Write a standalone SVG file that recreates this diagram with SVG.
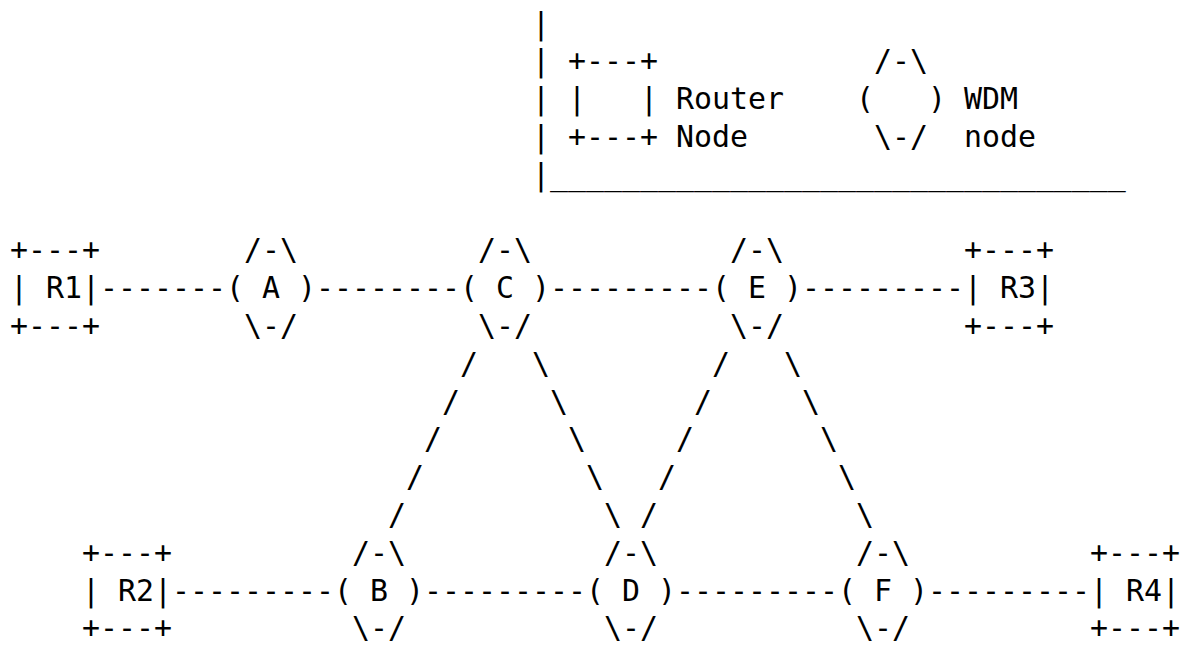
<svg xmlns="http://www.w3.org/2000/svg" width="1184" height="645" viewBox="0 0 1184 645" xml:space="preserve">
<style>
text { font-family: "DejaVu Sans Mono", "Liberation Mono", monospace; font-size: 29.9px; fill: #000; white-space: pre; }
</style>
<rect x="0" y="0" width="1184" height="645" fill="#fff"/>
<g id="legend-frame">
<text x="532" y="33.5">|</text>
<text x="532" y="71.3">|</text>
<text x="532" y="109.1">|</text>
<text x="532" y="146.9">|</text>
<text x="532" y="184.7">|________________________________</text>
</g>
<g id="legend-router">
<text x="568" y="71.3">+---+</text>
<text x="568" y="109.1">|   | Router</text>
<text x="568" y="146.9">+---+ Node</text>
</g>
<g id="legend-wdm">
<text x="874" y="71.3">/-\</text>
<text x="856" y="109.1">(   ) WDM</text>
<text x="874" y="146.9">\-/  node</text>
</g>
<g id="connectors">
<text x="100" y="298.1">-------</text>
<text x="316" y="298.1">--------</text>
<text x="550" y="298.1">---------</text>
<text x="802" y="298.1">---------</text>
<text x="172" y="600.5">---------</text>
<text x="424" y="600.5">---------</text>
<text x="676" y="600.5">---------</text>
<text x="928" y="600.5">---------</text>
<text x="460" y="373.7">/</text><text x="532" y="373.7">\</text><text x="712" y="373.7">/</text><text x="784" y="373.7">\</text>
<text x="442" y="411.5">/</text><text x="550" y="411.5">\</text><text x="694" y="411.5">/</text><text x="802" y="411.5">\</text>
<text x="424" y="449.3">/</text><text x="568" y="449.3">\</text><text x="676" y="449.3">/</text><text x="820" y="449.3">\</text>
<text x="406" y="487.1">/</text><text x="586" y="487.1">\</text><text x="658" y="487.1">/</text><text x="838" y="487.1">\</text>
<text x="388" y="524.9">/</text><text x="604" y="524.9">\</text><text x="640" y="524.9">/</text><text x="856" y="524.9">\</text>
</g>
<g id="R1">
<text x="10" y="260.3">+---+</text>
<text x="10" y="298.1">| R1|</text>
<text x="10" y="335.9">+---+</text>
</g>
<g id="A">
<text x="244" y="260.3">/-\</text>
<text x="226" y="298.1">( A )</text>
<text x="244" y="335.9">\-/</text>
</g>
<g id="C">
<text x="478" y="260.3">/-\</text>
<text x="460" y="298.1">( C )</text>
<text x="478" y="335.9">\-/</text>
</g>
<g id="E">
<text x="730" y="260.3">/-\</text>
<text x="712" y="298.1">( E )</text>
<text x="730" y="335.9">\-/</text>
</g>
<g id="R3">
<text x="964" y="260.3">+---+</text>
<text x="964" y="298.1">| R3|</text>
<text x="964" y="335.9">+---+</text>
</g>
<g id="R2">
<text x="82" y="562.7">+---+</text>
<text x="82" y="600.5">| R2|</text>
<text x="82" y="638.3">+---+</text>
</g>
<g id="B">
<text x="352" y="562.7">/-\</text>
<text x="334" y="600.5">( B )</text>
<text x="352" y="638.3">\-/</text>
</g>
<g id="D">
<text x="604" y="562.7">/-\</text>
<text x="586" y="600.5">( D )</text>
<text x="604" y="638.3">\-/</text>
</g>
<g id="F">
<text x="856" y="562.7">/-\</text>
<text x="838" y="600.5">( F )</text>
<text x="856" y="638.3">\-/</text>
</g>
<g id="R4">
<text x="1090" y="562.7">+---+</text>
<text x="1090" y="600.5">| R4|</text>
<text x="1090" y="638.3">+---+</text>
</g>
</svg>
